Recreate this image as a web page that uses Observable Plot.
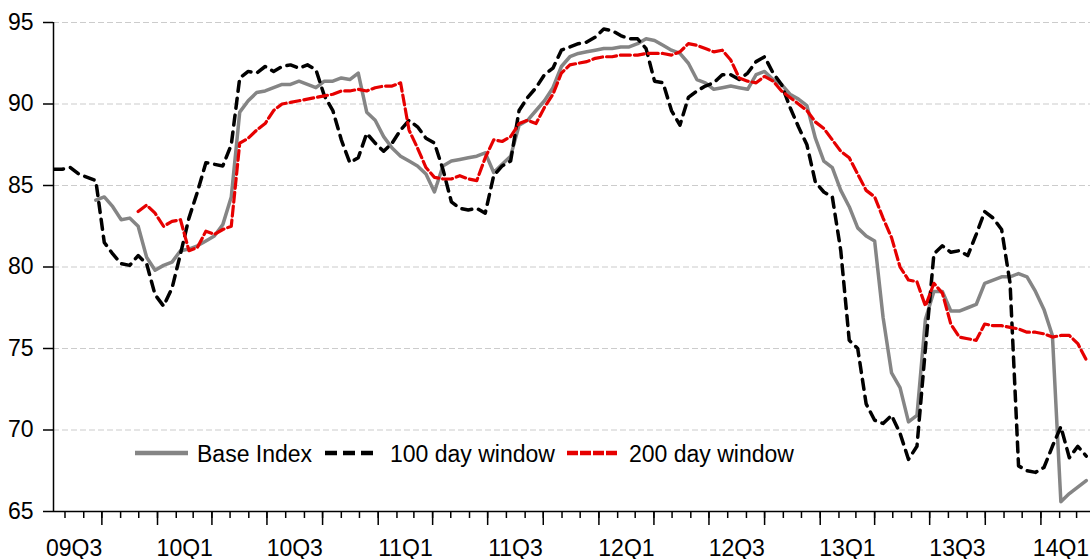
<!DOCTYPE html>
<html><head><meta charset="utf-8">
<script src="https://cdn.jsdelivr.net/npm/d3@7"></script>
<script src="https://cdn.jsdelivr.net/npm/@observablehq/plot@0.6"></script>
<style>
body{margin:0;background:#fff;}
#wrap{position:relative;width:1090px;height:559px;font-family:"Liberation Sans",Arial,sans-serif;}
#wrap svg.overlay{position:absolute;left:0;top:0;pointer-events:none;}
</style></head><body><div id="wrap"></div>
<script>
// ---- data (one value every 14 days) ----
const startDate = "2009-07-13";
const endDate = "2014-03-24";
const stepDays = 14;

const baseIndex = [null,null,null,null,null,84.1,84.3,83.7,82.9,83.0,
82.5,80.6,79.8,80.1,80.3,81.0,81.1,81.3,81.6,81.9,
82.6,84.3,89.5,90.2,90.7,90.8,91.0,91.2,91.2,91.4,
91.2,91.0,91.4,91.4,91.6,91.5,91.9,89.5,89.0,88.0,
87.3,86.8,86.5,86.2,85.7,84.6,86.2,86.5,86.6,86.7,
86.8,87.0,85.8,86.3,86.8,88.7,89.0,89.6,90.2,91.0,
92.3,92.9,93.1,93.2,93.3,93.4,93.4,93.5,93.5,93.7,
94.0,93.9,93.6,93.3,93.1,92.5,91.5,91.3,90.9,91.0,
91.1,91.0,90.9,91.8,92.0,91.5,91.2,90.6,90.3,89.9,
87.9,86.5,86.1,84.7,83.7,82.4,81.9,81.6,76.9,73.5,
72.6,70.5,70.9,76.8,78.5,78.5,77.3,77.3,77.5,77.7,
79.0,79.2,79.4,79.4,79.6,79.4,78.5,77.4,75.8,65.6,
66.1,66.5,66.9];

const window100 = [86.0,86.0,86.1,85.7,85.5,85.3,81.5,80.8,80.2,80.1,
80.7,80.2,78.3,77.6,78.7,80.8,83.0,84.6,86.4,86.3,
86.2,87.5,91.6,92.0,91.9,92.3,92.0,92.3,92.4,92.2,
92.4,92.1,90.5,89.6,87.8,86.4,86.7,88.2,87.6,87.1,
87.6,88.4,89.0,88.6,87.9,87.6,86.0,84.0,83.6,83.5,
83.6,83.3,85.6,86.2,86.5,89.6,90.4,91.0,91.8,92.2,
93.3,93.5,93.7,93.8,94.1,94.6,94.5,94.2,94.0,94.0,
93.4,91.4,91.3,89.6,88.7,90.4,90.8,91.1,91.3,91.8,
91.8,91.5,91.9,92.6,92.9,91.9,91.2,89.8,88.6,87.5,
85.2,84.6,84.3,81.0,75.5,75.0,71.6,70.6,70.4,70.9,
69.8,68.2,69.0,75.0,80.8,81.3,80.9,81.0,80.7,82.0,
83.4,83.0,82.3,79.0,67.8,67.5,67.4,67.7,69.0,70.2,
68.3,69.0,68.4];

const window200 = [null,null,null,null,null,null,null,null,null,null,
83.4,83.8,83.3,82.5,82.8,82.9,81.0,81.2,82.2,82.0,
82.3,82.5,87.6,87.9,88.4,88.8,89.6,90.0,90.1,90.2,
90.3,90.4,90.5,90.6,90.8,90.8,90.9,90.8,91.0,91.1,
91.1,91.3,88.4,87.3,86.1,85.5,85.4,85.4,85.6,85.4,
85.3,86.7,87.8,87.7,88.0,88.8,89.0,88.8,89.8,90.6,
91.9,92.4,92.5,92.6,92.8,92.9,92.9,93.0,93.0,93.0,
93.1,93.1,93.1,93.0,93.2,93.7,93.6,93.4,93.2,93.3,
92.7,91.6,91.4,91.3,91.7,91.4,90.8,90.4,90.0,89.6,
88.9,88.5,87.8,87.1,86.7,85.7,84.7,84.3,83.0,81.8,
80.0,79.2,79.1,77.6,79.0,78.4,76.5,75.7,75.6,75.5,
76.5,76.4,76.4,76.3,76.2,76.0,76.0,75.9,75.7,75.8,
75.8,75.3,74.3];

const seriesNames = ["Base Index","100 day window","200 day window"];
const seriesColors = ["#858585","#000000","#e60000"];
const quarterLabels = ["09Q3","10Q1","10Q3","11Q1","11Q3","12Q1","12Q3","13Q1","13Q3","14Q1"];
const yTicks = [65,70,75,80,85,90,95];

// ---- build ----
const x0 = new Date(startDate + "T00:00:00Z"), x1 = new Date(endDate + "T00:00:00Z");
const dates = baseIndex.map((_, i) => d3.utcDay.offset(x0, i * stepDays));
const allSeries = [baseIndex, window100, window200];
const tables = allSeries.map(vals => vals.map((v, i) => ({date: dates[i], value: v})));

const months = d3.utcMonth.range(x0, x1);
const quarters = d3.utcMonth.every(3).range(x0, x1);
const labelRows = quarterLabels.map(q => {
  const yr = 2000 + +q.slice(0, 2), qq = +q[3];
  const s = Date.UTC(yr, 3 * (qq - 1), 1), e = Date.UTC(yr, 3 * qq, 1);
  return {date: new Date((s + e) / 2), label: q};
});
const innerLabels = labelRows.slice(0, -1);
const lastLabel = labelRows.slice(-1);

const font = "Liberation Sans, Arial, sans-serif";
const chart = Plot.plot({
  width: 1090, height: 559,
  marginLeft: 53, marginRight: 0, marginTop: 22, marginBottom: 48,
  style: {fontFamily: font, fontSize: "23px", color: "#000", background: "#fff", overflow: "visible"},
  x: {type: "utc", domain: [x0, x1]},
  y: {domain: [65, 95]},
  marks: [
    Plot.gridY(yTicks.filter(v => v > 65), {stroke: "#cccccc", strokeOpacity: 1, strokeWidth: 1.2, strokeDasharray: "6,3"}),
    Plot.line(tables[0], {x: "date", y: "value", stroke: seriesColors[0], strokeWidth: 3.5, strokeLinejoin: "round", clip: true}),
    Plot.line(tables[1], {x: "date", y: "value", stroke: seriesColors[1], strokeWidth: 3.5, strokeDasharray: "10,7", strokeLinejoin: "round", clip: true}),
    Plot.line(tables[2], {x: "date", y: "value", stroke: seriesColors[2], strokeWidth: 3.2, strokeDasharray: "10,4", strokeLinejoin: "round", clip: true}),
    Plot.axisY(yTicks, {tickSize: 10, tickPadding: 10, label: null, fontSize: 23, strokeWidth: 1.5, tickFormat: d => String(d)}),
    Plot.axisX(months, {tickSize: 7, tickFormat: () => "", label: null, strokeWidth: 1.5}),
    Plot.axisX(quarters, {tickSize: 14, tickFormat: () => "", label: null, strokeWidth: 1.5}),
    Plot.text(innerLabels, {x: "date", text: "label", frameAnchor: "bottom", lineAnchor: "top", dy: 28, fontSize: 23, fill: "#000"}),
    Plot.text(lastLabel, {x: "date", text: "label", frameAnchor: "bottom", lineAnchor: "top", dy: 28, dx: 21, textAnchor: "end", fontSize: 23, fill: "#000"}),
    Plot.ruleX([x0], {stroke: "#000", strokeWidth: 1.5}),
    Plot.ruleY([65], {stroke: "#000", strokeWidth: 1.6})
  ]
});
const wrap = document.getElementById("wrap");
wrap.appendChild(chart);

// ---- legend (inside plot area, lower left) ----
const leg = d3.select(wrap).append("svg").attr("class", "overlay")
  .attr("width", 1090).attr("height", 559);
const legendItems = [
  {x: 135, w: 53, tx: 197, dash: null, sw: 4.5},
  {x: 325, w: 48, tx: 390, dash: "12,6", sw: 4.5},
  {x: 567, w: 50, tx: 629, dash: "11,2", sw: 4.5}
];
legendItems.forEach((it, k) => {
  leg.append("line").attr("x1", it.x).attr("x2", it.x + it.w).attr("y1", 453).attr("y2", 453)
    .attr("stroke", seriesColors[k]).attr("stroke-width", it.sw)
    .attr("stroke-dasharray", it.dash);
  leg.append("text").attr("x", it.tx).attr("y", 461.5).attr("font-family", font)
    .attr("font-size", 23).attr("fill", "#000").text(seriesNames[k]);
});
</script>
</body></html>
